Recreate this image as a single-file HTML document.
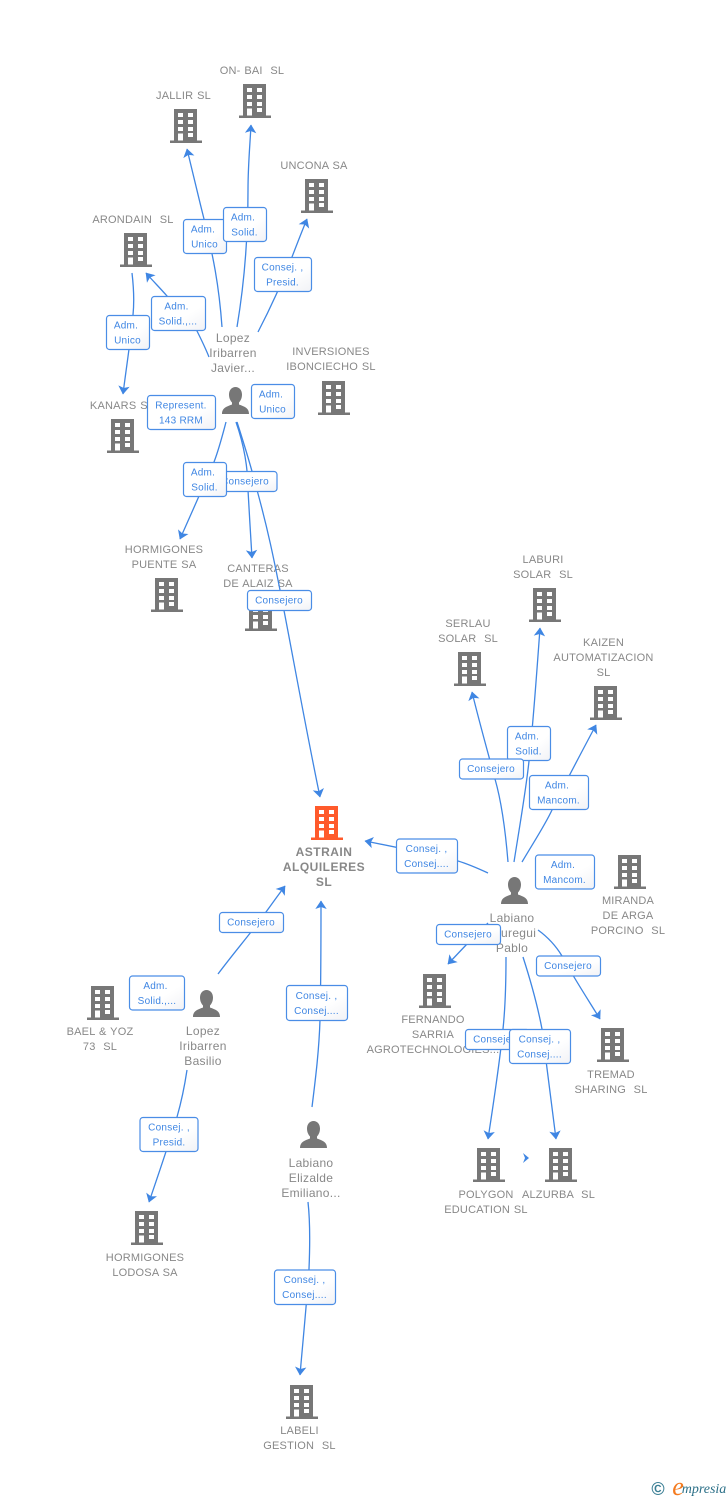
<!DOCTYPE html>
<html><head><meta charset="utf-8"><style>
html,body{margin:0;padding:0;background:#fff}
svg{display:block}
text{font-family:"Liberation Sans",sans-serif;white-space:pre;text-anchor:middle}
.n text{font-size:11px;fill:#888;letter-spacing:.2px;word-spacing:.6px}
.p text{font-size:12px;fill:#888;letter-spacing:.3px}
.m text{font-size:12px;font-weight:bold;fill:#888;letter-spacing:.5px}
.e path{fill:none;stroke:#3f86e3;stroke-width:1.3;marker-end:url(#a)}
.b rect{fill:url(#g);stroke:#4a8de6;stroke-width:1.2}
.b text{font-size:10px;fill:#3f86e3;letter-spacing:.25px;transform:translateY(-.8px)}
</style></head><body>
<svg width="728" height="1500" viewBox="0 0 728 1500" xmlns="http://www.w3.org/2000/svg">
<defs>
<linearGradient id="g" x1="0" y1="0" x2="1" y2="1"><stop offset="0" stop-color="#fff"/><stop offset=".6" stop-color="#fff"/><stop offset="1" stop-color="#f1f2f6"/></linearGradient>
<marker id="a" markerUnits="userSpaceOnUse" markerWidth="14" markerHeight="14" refX="11" refY="7" orient="auto"><path d="M11.500 7L3 1.300L5 7L3 12.700Z" fill="#3f86e3"/></marker>
<g id="c"><path fill-rule="evenodd" d="M4 0H27V32H4ZM8 4V8H13V4ZM18 4V8H23V4ZM8 11V15H13V11ZM18 11V15H23V11ZM8 18V22H13V18ZM18 18V22H23V18ZM8 24.500V32H13V24.500ZM18 24V28H23V24Z"/><rect x="0" y="31.500" width="32" height="2.500"/></g>
<g id="h"><path d="M13.500 0C17.300 0 20 3.200 20 7.500C20 11 18.700 13.600 17 15.500V17.500C21.500 19.300 27 20.500 27 27H0C0 20.500 5.500 19.300 10 17.500V15.500C8.300 13.600 7 11 7 7.500C7 3.200 9.700 0 13.500 0Z"/></g>
</defs>

<g fill="#777">
<use href="#c" x="239" y="84"/><use href="#c" x="170" y="109"/><use href="#c" x="301" y="179"/><use href="#c" x="120" y="233"/><use href="#c" x="107" y="419"/><use href="#c" x="318" y="381"/><use href="#c" x="151" y="578"/><use href="#c" x="245" y="597"/><use href="#c" x="529" y="588"/><use href="#c" x="454" y="652"/><use href="#c" x="590" y="686"/><use href="#c" x="614" y="855"/><use href="#c" x="419" y="974"/><use href="#c" x="597" y="1028"/><use href="#c" x="473" y="1148"/><use href="#c" x="545" y="1148"/><use href="#c" x="87" y="986"/><use href="#c" x="131" y="1211"/><use href="#c" x="286" y="1385"/>
<use href="#h" x="222" y="387"/><use href="#h" x="501" y="877"/><use href="#h" x="193" y="990"/><use href="#h" x="300" y="1121"/>
</g>
<use href="#c" x="311" y="806" fill="#ff5a2b"/>

<g class="n">
<text x="252" y="74">ON- BAI  SL</text>
<text x="183.500" y="99">JALLIR SL</text>
<text x="314" y="169">UNCONA SA</text>
<text x="133" y="223">ARONDAIN  SL</text>
<text x="331" y="355">INVERSIONES</text><text x="331" y="370">IBONCIECHO SL</text>
<text x="122" y="409">KANARS SL</text>
<text x="164" y="553">HORMIGONES</text><text x="164" y="568">PUENTE SA</text>
<text x="258" y="572">CANTERAS</text><text x="258" y="587">DE ALAIZ SA</text>
<text x="543" y="563">LABURI</text><text x="543" y="578">SOLAR  SL</text>
<text x="468" y="627">SERLAU</text><text x="468" y="642">SOLAR  SL</text>
<text x="603.500" y="646">KAIZEN</text><text x="603.500" y="661">AUTOMATIZACION</text><text x="603.500" y="676">SL</text>
<text x="628" y="904">MIRANDA</text><text x="628" y="919">DE ARGA</text><text x="628" y="934">PORCINO  SL</text>
<text x="433" y="1023">FERNANDO</text><text x="433" y="1038">SARRIA</text><text x="433" y="1053">AGROTECHNOLOGIES...</text>
<text x="611" y="1078">TREMAD</text><text x="611" y="1093">SHARING  SL</text>
<text x="486" y="1198">POLYGON</text><text x="486" y="1213">EDUCATION SL</text>
<text x="558.500" y="1198">ALZURBA  SL</text>
<text x="100" y="1035">BAEL &amp; YOZ</text><text x="100" y="1050">73  SL</text>
<text x="145" y="1261">HORMIGONES</text><text x="145" y="1276">LODOSA SA</text>
<text x="299.500" y="1434">LABELI</text><text x="299.500" y="1449">GESTION  SL</text>
</g>
<g class="m"><text x="324" y="856">ASTRAIN</text><text x="324" y="871">ALQUILERES</text><text x="324" y="886">SL</text></g>
<g class="p">
<text x="233" y="342">Lopez</text><text x="233" y="357">Iribarren</text><text x="233" y="372">Javier...</text>
<text x="512" y="922">Labiano</text><text x="512" y="937">Jauregui</text><text x="512" y="952">Pablo</text>
<text x="203" y="1035">Lopez</text><text x="203" y="1050">Iribarren</text><text x="203" y="1065">Basilio</text>
<text x="311" y="1167">Labiano</text><text x="311" y="1182">Elizalde</text><text x="311" y="1197">Emiliano...</text>
</g>

<g class="e">
<path d="M222 327C219 285 213 255 204 219C198 195 192 170 187 149"/>
<path d="M237 327C244 285 248 240 248 190C248 165 250 145 251 125"/>
<path d="M258 332C272 305 285 275 292 257C297 244 302 231 307 219"/>
<path d="M209 357C205 347 201 339 197 331C187 316 178 308 167 296C160 288 153 281 146 273"/>
<path d="M132 273C134 290 134 305 133 315C132 330 126 370 123 394"/>
<path d="M226 422C222 437 219 449 214 462C208 476 192 512 180 539"/>
<path d="M236 422C244 445 248 468 248 490C249 510 251 540 252 558"/>
<path d="M237 422C246 450 252 470 257 490C268 530 274 560 280 590C290 640 305 725 320 797"/>
<path d="M508 862C505 825 501 800 495 779C490 760 480 725 472 692"/>
<path d="M514 862C519 830 526 790 529 761C533 726 537 670 540 628"/>
<path d="M522 862C535 840 545 825 552 810C560 793 580 755 596 725"/>
<path d="M488 873C475 867 468 864 458 861C435 855 400 848 365 841"/>
<path d="M488 923L467 944L448 964"/>
<path d="M538 930C549 938 556 946 562 956C572 975 587 998 600 1019"/>
<path d="M506 957C506 985 505 1010 503 1029C500 1060 494 1100 488 1139"/>
<path d="M523 957C532 985 538 1008 542 1029C546 1060 551 1100 556 1139"/>
<path d="M218 974C230 958 240 946 251 932C262 918 273 902 285 886"/>
<path d="M312 1107C316 1075 319 1050 320 1020C321 980 321 940 321 901"/>
<path d="M187 1070C184 1090 181 1103 177 1117C170 1140 160 1170 149 1202"/>
<path d="M308 1202C310 1220 310 1245 309 1269C307 1300 303 1340 300 1375"/>
</g>
<path d="M523 1153L529 1158L523 1163L525 1158Z" fill="#3f86e3"/>

<g class="b">
<rect x="213" y="471.500" width="64" height="20" rx="3"/><text x="245" y="485.500">Consejero</text>
<rect x="183.500" y="219.500" width="43" height="34" rx="3"/><text x="204.500" y="233.500">Adm. </text><text x="204.500" y="248.500">Unico</text>
<rect x="223.500" y="207.500" width="43" height="34" rx="3"/><text x="244.500" y="221.500">Adm. </text><text x="244.500" y="236.500">Solid.</text>
<rect x="254.500" y="257.500" width="57" height="34" rx="3"/><text x="282.500" y="271.500">Consej. ,</text><text x="282.500" y="286.500">Presid.</text>
<rect x="151.500" y="296.500" width="54" height="34" rx="3"/><text x="178" y="310.500">Adm. </text><text x="178" y="325.500">Solid.,...</text>
<rect x="106.500" y="315.500" width="43" height="34" rx="3"/><text x="127.500" y="329.500">Adm. </text><text x="127.500" y="344.500">Unico</text>
<rect x="147.500" y="395.500" width="68" height="34" rx="3"/><text x="181" y="409.500">Represent.</text><text x="181" y="424.500">143 RRM</text>
<rect x="251.500" y="384.500" width="43" height="34" rx="3"/><text x="272.500" y="398.500">Adm. </text><text x="272.500" y="413.500">Unico</text>
<rect x="183.500" y="462.500" width="43" height="34" rx="3"/><text x="204.500" y="476.500">Adm. </text><text x="204.500" y="491.500">Solid.</text>
<rect x="247.500" y="590.500" width="64" height="20" rx="3"/><text x="279" y="604.500">Consejero</text>
<rect x="507.500" y="726.500" width="43" height="34" rx="3"/><text x="528.500" y="740.500">Adm. </text><text x="528.500" y="755.500">Solid.</text>
<rect x="459.500" y="759" width="64" height="20" rx="3"/><text x="491" y="773">Consejero</text>
<rect x="529.500" y="775.500" width="59" height="34" rx="3"/><text x="558.500" y="789.500">Adm. </text><text x="558.500" y="804.500">Mancom.</text>
<rect x="396.500" y="839" width="61" height="34" rx="3"/><text x="426.500" y="853">Consej. ,</text><text x="426.500" y="868">Consej....</text>
<rect x="535.500" y="855" width="59" height="34" rx="3"/><text x="564.500" y="869">Adm. </text><text x="564.500" y="884">Mancom.</text>
<rect x="436.500" y="924.500" width="64" height="20" rx="3"/><text x="468" y="938.500">Consejero</text>
<rect x="536.500" y="956" width="64" height="20" rx="3"/><text x="568" y="970">Consejero</text>
<rect x="465.500" y="1029.500" width="64" height="20" rx="3"/><text x="497" y="1043.500">Consejero</text>
<rect x="509.500" y="1029.500" width="61" height="34" rx="3"/><text x="539.500" y="1043.500">Consej. ,</text><text x="539.500" y="1058.500">Consej....</text>
<rect x="219.500" y="912.500" width="64" height="20" rx="3"/><text x="251" y="926.500">Consejero</text>
<rect x="129.500" y="976" width="55" height="34" rx="3"/><text x="157" y="990">Adm. </text><text x="157" y="1005">Solid.,...</text>
<rect x="286.500" y="985.500" width="61" height="35" rx="3"/><text x="316.500" y="1000">Consej. ,</text><text x="316.500" y="1015">Consej....</text>
<rect x="140" y="1117.500" width="58" height="34" rx="3"/><text x="169" y="1131.500">Consej. ,</text><text x="169" y="1146.500">Presid.</text>
<rect x="274.500" y="1270" width="61" height="34.500" rx="3"/><text x="304.500" y="1284">Consej. ,</text><text x="304.500" y="1299">Consej....</text>
</g>

<text x="658" y="1495" style="font-size:18px;font-weight:bold;fill:#3b7f95">©</text>
<text x="678" y="1495" style="font-family:'Liberation Serif',serif;font-style:italic;font-size:26px;fill:#f47b20">e</text>
<text x="704" y="1493" style="font-family:'Liberation Serif',serif;font-style:italic;font-size:14px;fill:#2c7088">mpresia</text>
</svg>
</body></html>
